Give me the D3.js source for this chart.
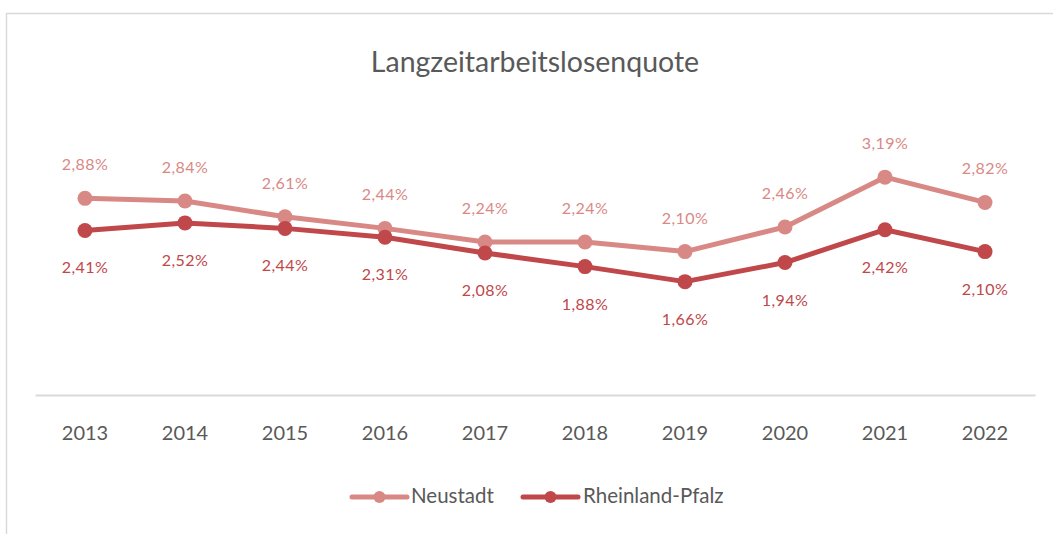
<!DOCTYPE html>
<html>
<head>
<meta charset="utf-8">
<script src="https://cdn.jsdelivr.net/npm/d3@7"></script>
<style>
  html, body { margin: 0; padding: 0; background: #fff; }
  svg { display: block; font-family: Lato, "Open Sans", sans-serif; }
</style>
</head>
<body>
<svg id="chart" width="1053" height="534"></svg>
<script>
const title = 'Langzeitarbeitslosenquote'
const years = ['2013', '2014', '2015', '2016', '2017', '2018', '2019', '2020', '2021', '2022']
const neustadt = [2.88, 2.84, 2.61, 2.44, 2.24, 2.24, 2.10, 2.46, 3.19, 2.82]
const rheinlandPfalz = [2.41, 2.52, 2.44, 2.31, 2.08, 1.88, 1.66, 1.94, 2.42, 2.10]
const seriesNames = ['Neustadt', 'Rheinland-Pfalz']

const colors = ['#d98985', '#c0474a']

const svg = d3.select('#chart')

// outer frame (right and bottom edge run off the picture)
svg.append('rect')
  .attr('x', 6.5)
  .attr('y', 13.5)
  .attr('width', 1200)
  .attr('height', 700)
  .attr('fill', 'none')
  .attr('stroke', '#d9d9d9')
  .attr('stroke-width', 1.5)

svg.append('text')
  .attr('x', 535)
  .attr('y', 72)
  .attr('text-anchor', 'middle')
  .attr('font-size', 28.5)
  .attr('fill', '#595959')
  .text(title)

const x = d3.scaleBand().domain(years).range([35, 1035])
const y = d3.scaleLinear().domain([0, 3.5]).range([395, 156])

const xAxis = svg.append('g')
  .attr('transform', 'translate(0,395)')
  .call(d3.axisBottom(x).tickSize(0).tickPadding(31))

xAxis.select('.domain').attr('stroke', '#d9d9d9').attr('stroke-width', 2)
xAxis.selectAll('text')
  .attr('font-size', 20)
  .attr('fill', '#595959')
  .attr('font-family', 'Lato, "Open Sans", sans-serif')

const fmt = (v) => v.toFixed(2).replace('.', ',') + '%'

const series = [neustadt, rheinlandPfalz].map((values, i) => ({
  name: seriesNames[i],
  color: colors[i],
  points: values.map((v, j) => ({ year: years[j], value: v })),
}))

const line = d3.line()
  .x((d) => x(d.year) + x.bandwidth() / 2)
  .y((d) => y(d.value))

series.forEach((s, i) => {
  const g = svg.append('g')
  g.append('path')
    .datum(s.points)
    .attr('d', line)
    .attr('fill', 'none')
    .attr('stroke', s.color)
    .attr('stroke-width', 5)
    .attr('stroke-linejoin', 'round')

  g.selectAll('circle')
    .data(s.points)
    .enter()
    .append('circle')
    .attr('cx', (d) => x(d.year) + x.bandwidth() / 2)
    .attr('cy', (d) => y(d.value))
    .attr('r', 7.5)
    .attr('fill', s.color)

  g.selectAll('.label')
    .data(s.points)
    .enter()
    .append('text')
    .attr('class', 'label')
    .attr('x', (d) => x(d.year) + x.bandwidth() / 2)
    .attr('y', (d) => y(d.value) + (i === 0 ? -28 : 43))
    .attr('text-anchor', 'middle')
    .attr('font-size', 16)
    .attr('letter-spacing', 0.4)
    .attr('fill', s.color)
    .text((d) => fmt(d.value))
})

// legend
const legendItems = [
  { x: 352, textX: 411 },
  { x: 523, textX: 583 },
]
series.forEach((s, i) => {
  const lg = svg.append('g').attr('transform', `translate(${legendItems[i].x},497)`)
  lg.append('line')
    .attr('x1', 0).attr('x2', 55)
    .attr('stroke', s.color)
    .attr('stroke-width', 5)
    .attr('stroke-linecap', 'round')
  lg.append('circle')
    .attr('cx', 27.5)
    .attr('r', 6)
    .attr('fill', s.color)
  svg.append('text')
    .attr('x', legendItems[i].textX)
    .attr('y', 503)
    .attr('font-size', 20.5)
    .attr('fill', '#595959')
    .text(s.name)
})
</script>
</body>
</html>
